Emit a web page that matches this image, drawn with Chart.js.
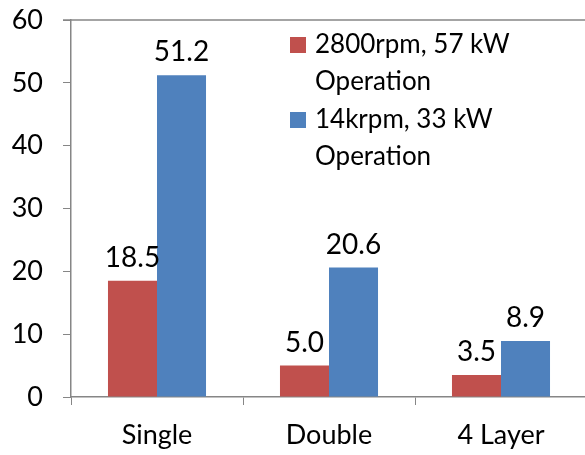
<!DOCTYPE html>
<html>
<head>
<meta charset="utf-8">
<script src="https://cdn.jsdelivr.net/npm/chart.js@4.4.1/dist/chart.umd.min.js"></script>
<style>
  html, body { margin: 0; padding: 0; background: #fff; overflow: hidden; }
  #wrap { position: relative; width: 602px; height: 455px; }
</style>
</head>
<body>
<div id="wrap"><canvas id="chart"></canvas></div>
<script>
// values
const categories = ['Single', 'Double', '4 Layer'];
const lowSpeed = [18.5, 5.0, 3.5];
const highSpeed = [51.2, 20.6, 8.9];
const seriesNames = [['2800rpm, 57 kW', 'Operation'], ['14krpm, 33 kW', 'Operation']];
const yTicks = [0, 10, 20, 30, 40, 50, 60];

const FONT = 'Lato, "Open Sans", sans-serif';
const axisGrey = '#868686';

// labels above each bar
const valueLabels = {
    id: 'valueLabels',
    afterDatasetsDraw(chart) {
        const ctx = chart.ctx;
        ctx.save();
        ctx.font = '28px ' + FONT;
        ctx.fillStyle = '#000';
        ctx.textAlign = 'center';
        ctx.textBaseline = 'alphabetic';
        chart.data.datasets.forEach((ds, i) => {
            chart.getDatasetMeta(i).data.forEach((bar, j) => {
                ctx.fillText(ds.data[j].toFixed(1), bar.x, bar.y - 14);
            });
        });
        ctx.restore();
    }
};

// top border of the plot area plus the two-line legend inside it
const frameAndLegend = {
    id: 'frameAndLegend',
    afterDraw(chart) {
        const ctx = chart.ctx;
        const area = chart.chartArea;
        ctx.save();
        ctx.strokeStyle = axisGrey;
        ctx.lineWidth = 1.5;
        ctx.beginPath();
        ctx.moveTo(area.left - 8, area.top);
        ctx.lineTo(area.right, area.top);
        ctx.stroke();

        ctx.font = '26px ' + FONT;
        ctx.textBaseline = 'alphabetic';
        ctx.textAlign = 'left';
        let y = 53;
        chart.data.datasets.forEach((ds, i) => {
            ctx.fillStyle = ds.backgroundColor;
            ctx.fillRect(290, y - 16, 16, 16);
            ctx.fillStyle = '#000';
            seriesNames[i].forEach(line => {
                ctx.fillText(line, 315, y);
                y += 37;
            });
            y += 1;
        });
        ctx.restore();
    }
};

new Chart(document.getElementById('chart'), {
    type: 'bar',
    data: {
        labels: categories,
        datasets: [{
            label: seriesNames[0].join(' '),
            data: lowSpeed,
            backgroundColor: '#C0504D'
        }, {
            label: seriesNames[1].join(' '),
            data: highSpeed,
            backgroundColor: '#4F81BD'
        }]
    },
    options: {
        responsive: true,
        maintainAspectRatio: false,
        animation: false,
        layout: { padding: { top: 20, right: 15, left: 0, bottom: 0 } },
        datasets: {
            bar: { categoryPercentage: 0.57, barPercentage: 1.0 }
        },
        scales: {
            x: {
                afterFit(scale) { scale.height = 58; },
                grid: {
                    offset: true,
                    drawOnChartArea: false,
                    tickLength: 8,
                    color: axisGrey
                },
                border: { color: axisGrey, width: 1.5 },
                ticks: {
                    color: '#000',
                    padding: 14,
                    font: { family: FONT, size: 27 }
                }
            },
            y: {
                min: 0,
                max: 60,
                afterFit(scale) {
                    scale.width = 71;
                    scale.paddingTop = 0;
                    scale.paddingBottom = 0;
                },
                afterBuildTicks(scale) { scale.ticks = yTicks.map(v => ({ value: v })); },
                grid: {
                    drawOnChartArea: false,
                    tickLength: 8,
                    color: axisGrey
                },
                border: { color: axisGrey, width: 1.5 },
                ticks: {
                    color: '#000',
                    padding: 20,
                    font: { family: FONT, size: 27 }
                }
            }
        },
        plugins: {
            legend: { display: false },
            tooltip: { enabled: false }
        }
    },
    plugins: [valueLabels, frameAndLegend]
});
</script>
</body>
</html>
